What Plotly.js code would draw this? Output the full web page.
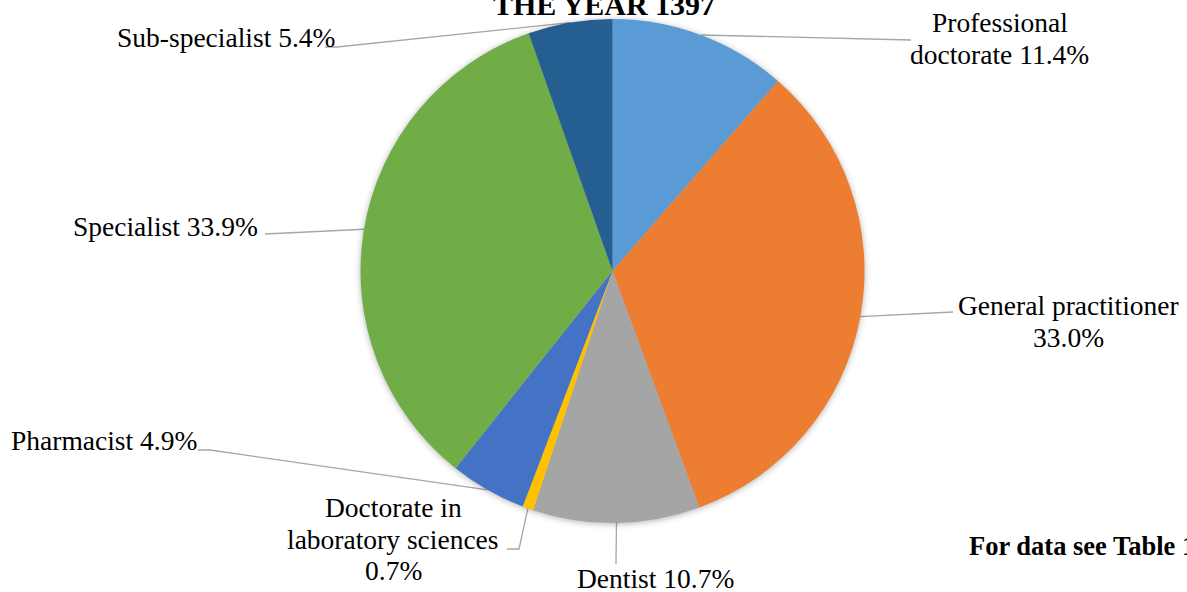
<!DOCTYPE html>
<html>
<head>
<meta charset="utf-8">
<script src="https://cdn.plot.ly/plotly-3.0.1.min.js"></script>
<style>
html,body{margin:0;padding:0;background:#fff;}
#chart{width:1187px;height:592px;}
.pielayer{filter:drop-shadow(0px 1px 3px rgba(0,0,0,0.3));}
</style>
</head>
<body>
<div id="chart"></div>
<script>
// ---- data ----
const categories = ['Professional doctorate', 'General practitioner', 'Dentist', 'Doctorate in laboratory sciences', 'Pharmacist', 'Specialist', 'Sub-specialist'];
const values = [11.4, 33.0, 10.7, 0.7, 4.9, 33.9, 5.4];
const colors = ['#5B9BD5', '#ED7D31', '#A5A5A5', '#FFC000', '#4472C4', '#70AD47', '#255E91'];
const titleText = 'THE YEAR 1397';
const noteText = 'For data see Table 1';

// ---- layout helpers (pixels) ----
const W = 1187, H = 592;
const cx = 612.5, cy = 271, R = 252;
const FS = 27.5, LH = 31.5;
const FONT = 'Liberation Serif';
const px = x => x / W, py = y => 1 - y / H;

// label placement: centre x, first baseline, words per line, leader end points
const labelPos = [
  {x: 1000, y: 32, lines: [1, 2], ends: [[911, 40]]},
  {x: 1068, y: 315, lines: [2, 1], ends: [[953, 312]]},
  {x: 655, y: 588, lines: [2], ends: [[616, 564]]},
  {x: 393, y: 517, lines: [2, 2, 1], ends: [[519, 549], [507, 549]]},
  {x: 103.5, y: 450, lines: [2], ends: [[210, 450], [198, 450]]},
  {x: 165, y: 236, lines: [2], ends: [[265, 234]]},
  {x: 226, y: 47, lines: [2], ends: [[337, 47], [325, 47]]}
];

const total = values.reduce((a, b) => a + b, 0);
const annotations = [];
const shapes = [];
let cum = 0;
categories.forEach((cat, i) => {
  const mid = (cum + values[i] / 2) / total * 2 * Math.PI;
  cum += values[i];
  const ex = cx + R * Math.sin(mid), ey = cy - R * Math.cos(mid);
  const lp = labelPos[i];
  let d = 'M' + px(ex) + ',' + py(ey);
  lp.ends.forEach(p => { d += ' L' + px(p[0]) + ',' + py(p[1]); });
  shapes.push({type: 'path', xref: 'paper', yref: 'paper', path: d, layer: 'below',
    line: {color: '#A6A6A6', width: 1.3}});
  const words = (cat + ' ' + values[i].toFixed(1) + '%').split(' ');
  let k = 0;
  lp.lines.forEach((n, j) => {
    const t = words.slice(k, k + n).join(' ');
    k += n;
    annotations.push({text: t, xref: 'paper', yref: 'paper', x: px(lp.x), y: py(lp.y + j * LH - FS * 0.33),
      xanchor: 'center', yanchor: 'middle', showarrow: false,
      font: {family: FONT, size: FS, color: '#000'}});
  });
});

annotations.push({text: '<b>' + noteText + '</b>', xref: 'paper', yref: 'paper', x: px(967), y: py(555 - 26.5 * 0.33),
  xanchor: 'left', yanchor: 'middle', showarrow: false,
  font: {family: FONT, size: 26.5, color: '#000'}});

const trace = {
  type: 'pie',
  labels: categories,
  values: values,
  sort: false,
  direction: 'clockwise',
  rotation: 0,
  textinfo: 'none',
  marker: {colors: colors, line: {width: 0}},
  domain: {x: [px(cx - R), px(cx + R)], y: [py(cy + R), py(cy - R)]},
  hoverinfo: 'label+percent'
};

const layout = {
  width: W, height: H,
  margin: {l: 0, r: 0, t: 0, b: 0},
  paper_bgcolor: '#fff',
  showlegend: false,
  title: {text: '<b>' + titleText + '</b>', x: px(604), xanchor: 'center', y: py(14 - 30 * 0.33), yanchor: 'middle', yref: 'container',
    font: {family: FONT, size: 30, color: '#000'}},
  annotations: annotations,
  shapes: shapes
};

Plotly.newPlot('chart', [trace], layout, {displayModeBar: false, staticPlot: true});
</script>
</body>
</html>
